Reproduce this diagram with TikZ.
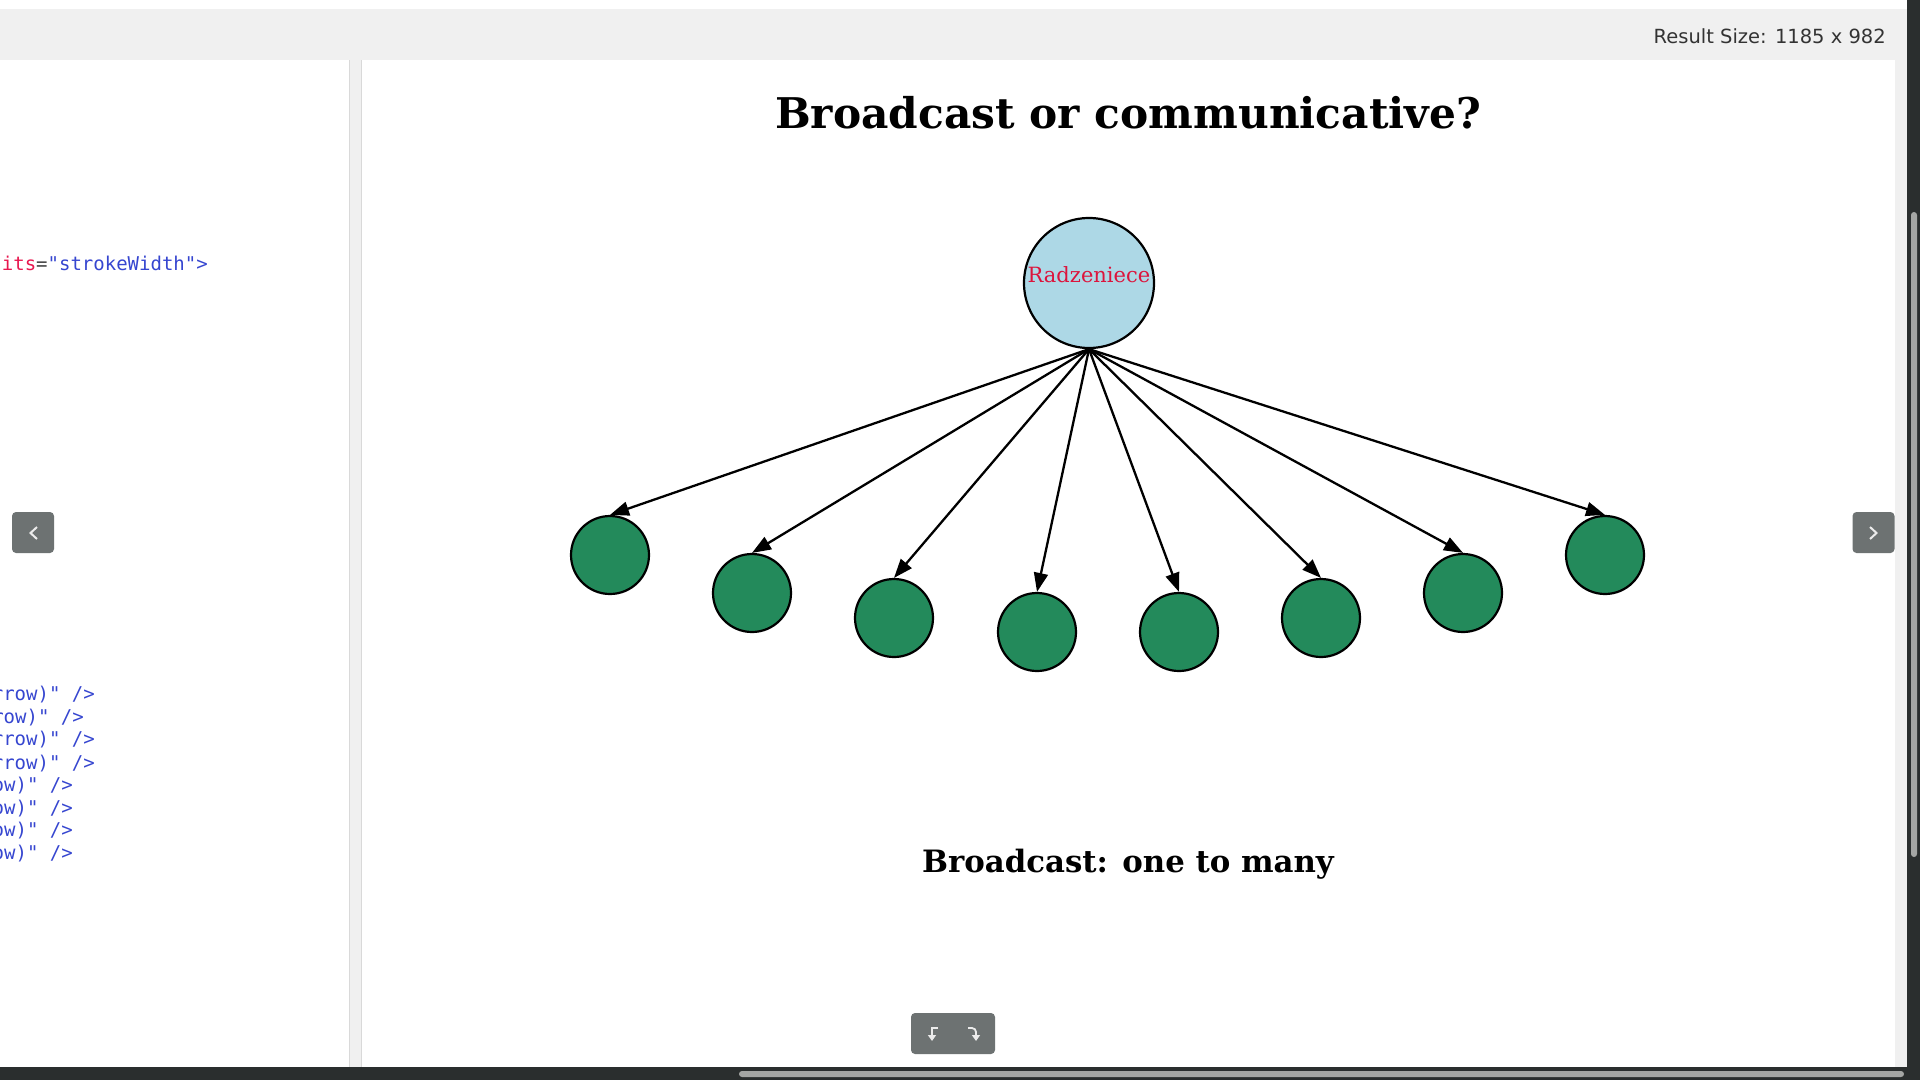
\documentclass[tikz,border=0pt]{standalone}
\usepackage{fontspec}
\setmainfont{DejaVu Serif}
\newfontfamily\uisans{DejaVu Sans}
\newfontfamily\codefont{DejaVu Sans Mono}
\usetikzlibrary{arrows.meta}
\definecolor{hubblue}{HTML}{ADD8E6}
\definecolor{leafgreen}{HTML}{238A5B}
\definecolor{hubtext}{HTML}{DC143C}
\definecolor{barbg}{HTML}{F0F0F0}
\definecolor{btngray}{HTML}{6D7272}
\definecolor{darkedge}{HTML}{2A2E2E}
\definecolor{thumbgray}{HTML}{A4A6A4}
\definecolor{codeblue}{HTML}{3646D0}
\definecolor{codered}{HTML}{E8174F}
\definecolor{codegray}{HTML}{444444}

\tikzset{
  hubnode/.style={circle, draw=black, line width=2.2pt, fill=hubblue, minimum size=130pt, inner sep=0pt,
    text=hubtext, font=\fontsize{21}{25}\selectfont},
  leafnode/.style={circle, draw=black, line width=2.2pt, fill=leafgreen, minimum size=78pt, inner sep=0pt},
  feed/.style={draw=black, line width=2.3pt, -{Triangle[length=19pt,width=14pt]}},
  navbtn/.style={fill=btngray, rounded corners=4pt, minimum width=42pt, minimum height=41pt, inner sep=0pt},
  codeline/.style={anchor=base east, font=\codefont\fontsize{19}{23}\selectfont, text=codeblue, inner sep=0pt},
  iconline/.style={draw=white!92!black, line width=2pt},
}

\begin{document}
\begin{tikzpicture}[x=1pt,y=-1pt]
% 1 unit = 1 px of the 1920x1080 frame, y downwards
\useasboundingbox (0,0) rectangle (1920,1080);
\fill[white] (0,0) rectangle (1920,1080);
\fill[barbg] (0,9) rectangle (1907,60);
\fill[barbg] (349,60) rectangle (362,1067);
\draw[black!15] (349.5,60) -- (349.5,1067) (361.5,60) -- (361.5,1067);
\fill[barbg] (1895,60) rectangle (1907,1067);
\fill[darkedge] (1907,0) rectangle (1920,1080);
\fill[darkedge] (0,1067) rectangle (1920,1080);
\fill[thumbgray, rounded corners=3pt] (1911,212) rectangle (1917,857);
\fill[thumbgray, rounded corners=3pt] (739,1071) rectangle (1904,1077);
\node[anchor=base east, font=\uisans\fontsize{19.5}{23}\selectfont, text=black!80, inner sep=0pt] (size) at (1886,43) {Result Size: 1185 x 982};

% code panel, cut at its left edge
\begin{scope}
\clip (0,60) rectangle (349,1067);
\node[codeline] (attr) at (208,270) {{\color{codered}its}{\color{codegray}=}"strokeWidth">};
\foreach \y/\x/\t in {700/95/rrow, 723/84/row, 745/95/rrow, 769/95/rrow, 791/73/ow, 814/73/ow, 836/73/ow, 859/73/ow}
  {\node[codeline] at (\x,\y) {\t)" />};}
\end{scope}

% buttons
\node[navbtn] (prevbtn) at (33,532.5) {};
\node[navbtn] (nextbtn) at (1873.5,532.5) {};
\node[navbtn, minimum width=84pt] (undobtn) at (953,1033.5) {};
\draw[iconline] (37,527) -- (30.5,533) -- (37,539);
\draw[iconline] (1870,527) -- (1876.5,533) -- (1870,539);
\draw[iconline, line width=1.8pt, -{Triangle[length=6pt,width=8pt]}] (938,1028) -- (932,1028) -- (932,1041);
\draw[iconline, line width=1.8pt, -{Triangle[length=6pt,width=8pt]}] (968,1028) -- (972,1028) to[out=0,in=90] (976,1032) -- (976,1041);

% diagram
\node[font=\bfseries\fontsize{42.3}{50}\selectfont] (title) at (1128,113) {Broadcast or communicative?};
\node[hubnode] (hub) at (1089,283) {\raisebox{17pt}{Radzeniece}};
\foreach \i/\x/\y in {1/610/555, 2/752/593, 3/894/618, 4/1037/632, 5/1179/632, 6/1321/618, 7/1463/593, 8/1605/555}
  {\node[leafnode] (leaf\i) at (\x,\y) {};}
\foreach \i in {1,...,8}
  {\draw[feed] (hub.south) -- (leaf\i.north);}
\node[font=\bfseries\fontsize{30.8}{36}\selectfont] (subtitle) at (1128,864) {Broadcast: one to many};
\end{tikzpicture}
\end{document}
